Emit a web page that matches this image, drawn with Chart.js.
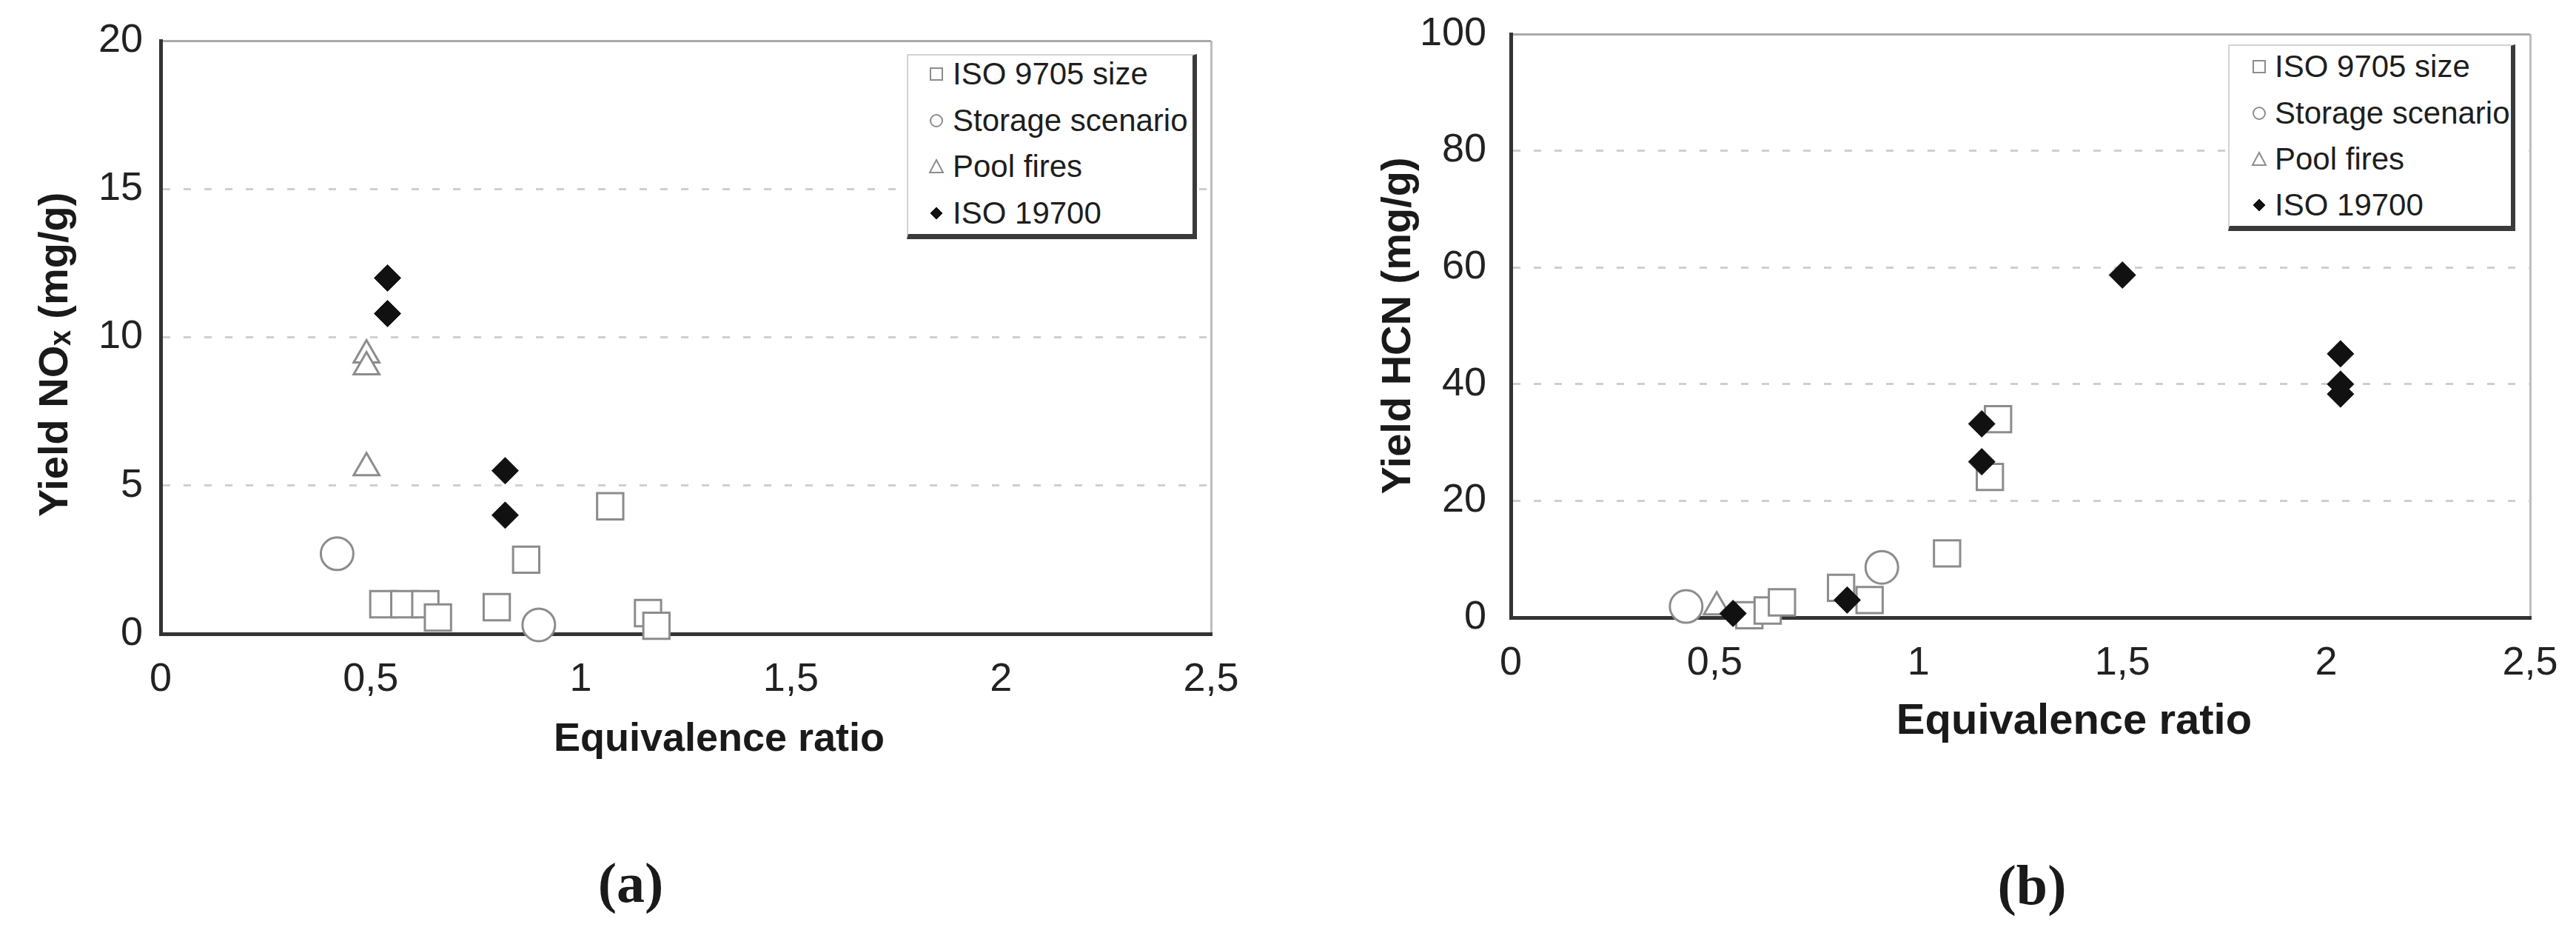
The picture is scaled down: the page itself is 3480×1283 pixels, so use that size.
<!DOCTYPE html>
<html>
<head>
<meta charset="utf-8">
<script src="https://cdn.jsdelivr.net/npm/chart.js@4/dist/chart.umd.min.js"></script>
<style>
html,body{margin:0;padding:0;background:#fff;width:3480px;height:1283px;overflow:hidden;}
.wrap{position:absolute;top:0;width:1740px;height:1080px;}
.legend{position:absolute;background:#fff;border:2px solid #d2d2d2;border-right:6px solid #3a3a3a;border-bottom:7px solid #3a3a3a;box-sizing:border-box;overflow:hidden;font-family:"Liberation Sans",Arial,sans-serif;font-size:42px;color:#1e1e1e;}
.legend .item{position:absolute;left:0;width:100%;height:44px;}
.legend .item svg{position:absolute;top:11px;}
.legend .item span{position:absolute;top:0;line-height:44px;white-space:nowrap;}
.sub{position:absolute;font-family:"Liberation Serif","DejaVu Serif",serif;font-weight:bold;font-size:76px;color:#1a1a1a;transform:translate(-50%,-50%);line-height:1;white-space:nowrap;}
</style>
</head>
<body>
<div class="wrap" style="left:0"><canvas id="c1" width="1740" height="1080"></canvas></div>
<div class="wrap" style="left:1740px"><canvas id="c2" width="1740" height="1080"></canvas></div>
<div class="legend" id="leg1" style="left:1225px;top:73px;width:392px;height:250px;"></div>
<div class="legend" id="leg2" style="left:3010px;top:60px;width:388px;height:252px;"></div>
<div class="sub" style="left:852px;top:1192px;">(a)</div>
<div class="sub" style="left:2745px;top:1195px;">(b)</div>
<script>
// ---------- data ----------
const seriesLabels = ['ISO 9705 size', 'Storage scenario', 'Pool fires', 'ISO 19700'];
const xTickLabels = ['0', '0,5', '1', '1,5', '2', '2,5'];
const noxTickLabels = ['0', '5', '10', '15', '20'];
const hcnTickLabels = ['0', '20', '40', '60', '80', '100'];

// (a) Yield NOx (mg/g)
const noxIso9705X = [0.53, 0.58, 0.63, 0.66, 0.80, 0.87, 1.07, 1.16, 1.18];
const noxIso9705Y = [1.0, 1.0, 1.0, 0.55, 0.9, 2.5, 4.3, 0.7, 0.27];
const noxStorageX = [0.42, 0.90];
const noxStorageY = [2.7, 0.3];
const noxPoolX = [0.49, 0.49, 0.49];
const noxPoolY = [9.4, 9.0, 5.6];
const noxIso19700X = [0.54, 0.54, 0.82, 0.82];
const noxIso19700Y = [12.0, 10.8, 5.5, 4.0];

// (b) Yield HCN (mg/g)
const hcnIso9705X = [0.585, 0.63, 0.665, 0.81, 0.88, 1.07, 1.175, 1.195];
const hcnIso9705Y = [0.4, 1.2, 2.6, 5.1, 3.0, 11.0, 24.1, 34.0];
const hcnStorageX = [0.43, 0.91];
const hcnStorageY = [1.9, 8.6];
const hcnPoolX = [0.505];
const hcnPoolY = [1.8];
const hcnIso19700X = [0.545, 0.825, 1.155, 1.155, 1.50, 2.035, 2.035, 2.035];
const hcnIso19700Y = [0.7, 3.0, 33.2, 26.7, 58.7, 45.2, 40.0, 38.3];

// ---------- styles ----------
const FONT = "'Liberation Sans', 'DejaVu Sans', Arial, sans-serif";
const GRAY = '#8c8c8c';
const styles = [
  {pointStyle: 'rect', pointRadius: 25, backgroundColor: '#ffffff', borderColor: GRAY, borderWidth: 3, order: 1},
  {pointStyle: 'circle', pointRadius: 22, backgroundColor: '#ffffff', borderColor: GRAY, borderWidth: 3, order: 2},
  {pointStyle: 'triangle', pointRadius: 20, backgroundColor: '#ffffff', borderColor: GRAY, borderWidth: 3, order: 3},
  {pointStyle: 'rectRot', pointRadius: 18, backgroundColor: '#111111', borderColor: '#111111', borderWidth: 1, order: 0}
];

function pts(xs, ys) { return xs.map((x, i) => ({x: x, y: ys[i]})); }

function makeDatasets(groups) {
  return groups.map((g, i) => Object.assign({
    label: seriesLabels[i],
    data: pts(g[0], g[1]),
    pointHoverRadius: styles[i].pointRadius,
    clip: false,
    showLine: false
  }, styles[i]));
}

function noPad(s) { s.paddingTop = 0; s.paddingBottom = 0; s.paddingLeft = 0; s.paddingRight = 0; }

function makeChart(id, cfg) {
  const yMax = cfg.yMax;
  return new Chart(document.getElementById(id), {
    type: 'scatter',
    data: {datasets: makeDatasets(cfg.groups)},
    options: {
      responsive: false,
      animation: false,
      devicePixelRatio: 1,
      events: [],
      layout: {padding: {left: 0, top: cfg.top, right: cfg.right, bottom: 0}},
      plugins: {legend: {display: false}, tooltip: {enabled: false}},
      scales: {
        x: {
          type: 'linear', min: 0, max: 2.5,
          afterFit: (s) => { s.height = cfg.xHeight; noPad(s); },
          ticks: {
            stepSize: 0.5, padding: 30, color: '#222',
            font: {family: FONT, size: cfg.tickSize},
            callback: (v, i) => xTickLabels[i]
          },
          grid: {
            drawTicks: false, lineWidth: 3,
            color: (c) => (c.tick && c.tick.value === 2.5) ? '#bdbdbd' : 'rgba(0,0,0,0)'
          },
          border: {display: true, color: '#333333', width: 5},
          title: {
            display: true, text: cfg.xTitle, color: '#1a1a1a',
            font: {family: FONT, size: cfg.xTitleSize, weight: 'bold'},
            padding: {top: 0, bottom: cfg.xTitlePad}
          }
        },
        y: {
          type: 'linear', min: 0, max: yMax,
          afterFit: (s) => { s.width = cfg.yWidth; noPad(s); },
          ticks: {
            stepSize: cfg.yStep, padding: cfg.yTickPad, color: '#222',
            font: {family: FONT, size: cfg.tickSize},
            callback: (v, i) => cfg.yLabels[i]
          },
          grid: {
            drawTicks: false, lineWidth: 3,
            color: (c) => {
              if (!c.tick) return 'rgba(0,0,0,0)';
              if (c.tick.value === 0) return 'rgba(0,0,0,0)';
              if (c.tick.value === yMax) return '#a9a9a9';
              return '#cfcfcf';
            }
          },
          border: {
            display: true, color: '#333333', width: 5,
            dash: (c) => (c.tick && c.tick.value !== yMax) ? [10, 18] : []
          },
          title: {
            display: true, text: cfg.yTitle, color: '#1a1a1a',
            font: {family: FONT, size: 56, weight: 'bold'},
            padding: {top: cfg.yTitlePad, bottom: 0}
          }
        }
      }
    }
  });
}

const chartA = makeChart('c1', {
  groups: [[noxIso9705X, noxIso9705Y], [noxStorageX, noxStorageY], [noxPoolX, noxPoolY], [noxIso19700X, noxIso19700Y]],
  yMax: 20, yStep: 5, yLabels: noxTickLabels,
  top: 55, right: 104, xHeight: 224, yWidth: 217, yTickPad: 24,
  tickSize: 54, xTitleSize: 54, xTitlePad: 48, yTitlePad: 42,
  xTitle: '      Equivalence ratio', yTitle: 'Yield NO\u2093 (mg/g)   '
});

const chartB = makeChart('c2', {
  groups: [[hcnIso9705X, hcnIso9705Y], [hcnStorageX, hcnStorageY], [hcnPoolX, hcnPoolY], [hcnIso19700X, hcnIso19700Y]],
  yMax: 100, yStep: 20, yLabels: hcnTickLabels,
  top: 46, right: 62, xHeight: 246, yWidth: 301, yTickPad: 33,
  tickSize: 54, xTitleSize: 58, xTitlePad: 70, yTitlePad: 116,
  xTitle: '         Equivalence ratio', yTitle: 'Yield HCN (mg/g)'
});

// ---------- HTML legends built from the chart datasets ----------
function markerSvg(ds) {
  const s = ds.pointStyle, f = ds.backgroundColor, b = ds.borderColor;
  let shape = '';
  if (s === 'rect') shape = `<rect x="3" y="3" width="16" height="16" fill="${f}" stroke="${b}" stroke-width="2"/>`;
  else if (s === 'circle') shape = `<circle cx="11" cy="11" r="8" fill="${f}" stroke="${b}" stroke-width="2"/>`;
  else if (s === 'triangle') shape = `<polygon points="11,2 20,19 2,19" fill="${f}" stroke="${b}" stroke-width="2"/>`;
  else shape = `<polygon points="11,3 19,11 11,19 3,11" fill="${f}" stroke="${b}" stroke-width="1"/>`;
  return `<svg width="22" height="22" viewBox="0 0 22 22">${shape}</svg>`;
}
function buildLegend(chart, id, rowTops, markerX, textX) {
  const el = document.getElementById(id);
  chart.data.datasets.forEach((ds, i) => {
    const item = document.createElement('div');
    item.className = 'item';
    item.style.top = rowTops[i] + 'px';
    item.innerHTML = markerSvg(ds).replace('<svg ', `<svg style="left:${markerX - 11}px" `) +
      `<span style="left:${textX}px">${ds.label}</span>`;
    el.appendChild(item);
  });
}
buildLegend(chartA, 'leg1', [3, 65.5, 128, 190.5], 38, 60);
buildLegend(chartB, 'leg2', [6, 69, 131, 193], 40, 61);
</script>
</body>
</html>
